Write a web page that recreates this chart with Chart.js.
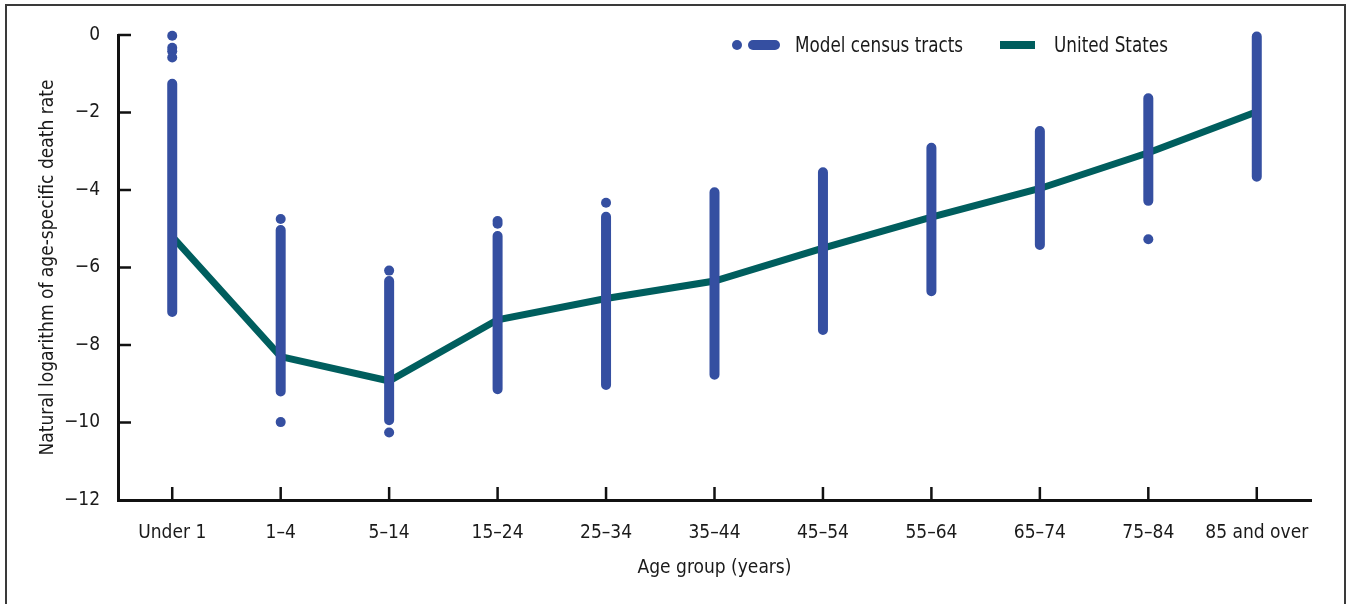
<!DOCTYPE html>
<html>
<head>
<meta charset="utf-8">
<script src="https://cdn.jsdelivr.net/npm/chart.js@4.4.1/dist/chart.umd.min.js"></script>
<style>
  html, body { margin: 0; padding: 0; background: #fff; }
  #wrap { position: relative; width: 1346px; height: 604px; overflow: hidden;
          font-family: 'Liberation Sans Narrow', 'DejaVu Sans Condensed', sans-serif; color: #1a1a1a; }
  #frame { position: absolute; left: 5px; top: 4px; width: 1341px; height: 700px;
           border: 2px solid #3a3a3a; box-sizing: border-box; }
  #chart { position: absolute; left: 0; top: 0; }
  .leg { position: absolute; }
  .legText { position: absolute; top: 32px; font-size: 22px; line-height: 26px; white-space: nowrap;
             transform: scaleX(0.85); transform-origin: left center; }
</style>
</head>
<body>
<div id="wrap">
  <div id="frame"></div>
  <canvas id="chart" width="1346" height="604"></canvas>
  <!-- 범례 (점 + 캡슐 모양은 기본 범례로 안 돼서 직접 그림) -->
  <div class="leg" style="left:732px;top:40px;width:10px;height:10px;border-radius:5px;background:#354fa1;"></div>
  <div class="leg" style="left:748px;top:40px;width:32px;height:10px;border-radius:5px;background:#354fa1;"></div>
  <div class="legText" style="left:795px;">Model census tracts</div>
  <div class="leg" style="left:1000px;top:41px;width:35px;height:8px;background:#005e5e;"></div>
  <div class="legText" style="left:1054px;">United States</div>
</div>
<script>
// ========== 데이터 ==========
const ageGroups = ['Under 1', '1–4', '5–14', '15–24', '25–34', '35–44', '45–54', '55–64', '65–74', '75–84', '85 and over'];

// 미국 전체 (ln 연령별 사망률)
const usRate = [-5.2, -8.3, -8.93, -7.35, -6.8, -6.35, -5.5, -4.7, -3.96, -3.04, -1.98];

// 모델 센서스 트랙: 촘촘한 점 기둥의 위/아래 끝
const tractHigh = [-1.26, -5.03, -6.35, -5.19, -4.69, -4.06, -3.54, -2.91, -2.48, -1.63, -0.04];
const tractLow = [-7.15, -9.2, -9.94, -9.14, -9.03, -8.77, -7.61, -6.61, -5.42, -4.28, -3.66];

// 기둥에서 떨어진 개별 점
const outlierGroup = ['Under 1', 'Under 1', 'Under 1', 'Under 1', '1–4', '1–4', '5–14', '5–14', '15–24', '15–24', '25–34', '75–84'];
const outlierRate = [-0.02, -0.33, -0.42, -0.58, -4.75, -9.99, -6.08, -10.26, -4.8, -4.87, -4.33, -5.27];

const yTicks = [0, -2, -4, -6, -8, -10, -12];

const BLUE = '#354fa1';
const TEAL = '#005e5e';
const FONT = "'Liberation Sans Narrow', 'DejaVu Sans Condensed', sans-serif";

// 기둥 데이터 (각 그룹마다 위-아래 두 점, null 로 끊기)
const columnData = [];
for (let i = 0; i < ageGroups.length; i++) {
    columnData.push({ x: ageGroups[i], y: tractHigh[i] });
    columnData.push({ x: ageGroups[i], y: tractLow[i] });
    columnData.push({ x: ageGroups[i], y: null });
}

const outlierData = [];
for (let i = 0; i < outlierGroup.length; i++) {
    outlierData.push({ x: outlierGroup[i], y: outlierRate[i] });
}

// 안쪽으로 향하는 눈금선
const innerTicks = {
    id: 'innerTicks',
    beforeDatasetsDraw(chart) {
        const ctx = chart.ctx;
        const xs = chart.scales.x;
        const ys = chart.scales.y;
        const area = chart.chartArea;
        ctx.save();
        ctx.strokeStyle = '#111';
        ctx.lineWidth = 2.5;
        ctx.beginPath();
        for (let i = 0; i < yTicks.length - 1; i++) {
            const py = ys.getPixelForValue(yTicks[i]);
            ctx.moveTo(area.left, py);
            ctx.lineTo(area.left + 13, py);
        }
        for (let i = 0; i < ageGroups.length; i++) {
            const px = xs.getPixelForTick(i);
            ctx.moveTo(px, area.bottom);
            ctx.lineTo(px, area.bottom - 13);
        }
        ctx.stroke();
        ctx.restore();
    }
};

new Chart(document.getElementById('chart'), {
    type: 'line',
    data: {
        labels: ageGroups,
        datasets: [
            {
                label: 'Model census tracts',
                data: outlierData,
                showLine: false,
                clip: false,
                pointRadius: 5,
                pointBackgroundColor: BLUE,
                pointBorderWidth: 0
            },
            {
                label: 'Model census tracts (range)',
                data: columnData,
                clip: false,
                borderColor: BLUE,
                borderWidth: 10,
                borderCapStyle: 'round',
                spanGaps: false,
                pointRadius: 0
            },
            {
                label: 'United States',
                data: usRate,
                clip: false,
                borderColor: TEAL,
                borderWidth: 7,
                borderJoinStyle: 'miter',
                tension: 0,
                pointRadius: 0
            }
        ]
    },
    options: {
        responsive: false,
        animation: false,
        events: [],
        layout: { padding: { left: 0, right: 35, top: 35, bottom: 0 } },
        plugins: {
            legend: { display: false },
            tooltip: { enabled: false }
        },
        scales: {
            x: {
                type: 'category',
                offset: true,
                grid: { display: false, drawTicks: false },
                border: { display: true, color: '#111', width: 3 },
                ticks: { color: '#1a1a1a', padding: 22, font: { family: FONT, size: 19 }, maxRotation: 0, autoSkip: false },
                title: {
                    display: true, text: 'Age group (years)', color: '#1a1a1a',
                    font: { family: FONT, size: 19 }, padding: { top: 0, bottom: 25 }
                },
                afterFit(scale) { scale.height = 104; }
            },
            y: {
                min: -12,
                max: 0,
                afterBuildTicks(scale) { scale.ticks = yTicks.map(v => ({ value: v })); },
                grid: { display: false, drawTicks: false },
                border: { display: true, color: '#111', width: 3 },
                ticks: {
                    color: '#1a1a1a', padding: 18, font: { family: FONT, size: 19 },
                    callback: v => (v < 0 ? '\u2212' + Math.abs(v) : String(v))
                },
                title: {
                    display: true, text: 'Natural logarithm of age-specific death rate', color: '#1a1a1a',
                    font: { family: FONT, size: 19 }, padding: { top: 37, bottom: 0 }
                },
                afterFit(scale) { scale.width = 118; }
            }
        }
    },
    plugins: [innerTicks]
});
</script>
</body>
</html>
